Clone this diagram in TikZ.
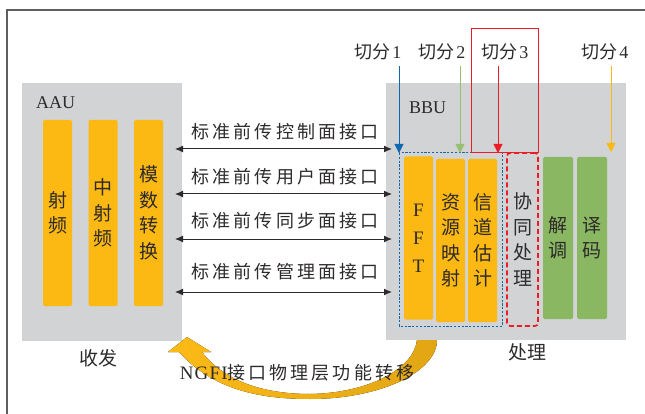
\documentclass[tikz,border=0pt]{standalone}
\usepackage{fontspec}
\setmainfont{Liberation Serif}
\newfontfamily\cjk{Noto Sans CJK SC}
\newfontfamily\cjkw[LetterSpace=17]{Noto Sans CJK SC}
\newfontfamily\serifw[LetterSpace=6]{Liberation Serif}
\usetikzlibrary{arrows.meta}
\definecolor{boxgray}{RGB}{209,211,212}
\definecolor{barorange}{RGB}{252,184,19}
\definecolor{bargreen}{RGB}{138,183,97}
\definecolor{cutblue}{RGB}{16,104,176}
\definecolor{cutgreen}{RGB}{150,192,110}
\definecolor{cutred}{RGB}{237,28,36}
\definecolor{cutyellow}{RGB}{252,184,19}
\definecolor{txt}{RGB}{45,42,43}
\definecolor{framegray}{RGB}{95,95,95}
\definecolor{bandleft}{RGB}{252,186,22}
\definecolor{bandright}{RGB}{226,166,20}
\tikzset{
  unitbox/.style={fill=boxgray, draw=none, inner sep=0pt},
  obar/.style={fill=barorange, draw=none, rounded corners=1.5pt, inner sep=0pt, minimum width=29pt, text=txt, align=center},
  gbar/.style={fill=bargreen, draw=none, rounded corners=1.5pt, inner sep=0pt, minimum width=30pt, text=txt, align=center},
  vtxt/.style={font=\cjk\fontsize{19}{25.5}\selectfont},
  lbl/.style={text=txt, inner sep=0pt},
  iflbl/.style={text=txt, inner sep=0pt, font=\cjkw\fontsize{18}{20}\selectfont},
  cutlbl/.style={text=txt, inner sep=0pt},
  fharrow/.style={{Latex[length=8pt,width=7pt]}-{Latex[length=8pt,width=7pt]}, line width=1pt, txt},
  cutarrow/.style={-{Triangle[length=9pt,width=9pt]}, line width=0.9pt}
}
\begin{document}
\begin{tikzpicture}[x=1pt,y=-1pt]
\useasboundingbox (0,0) rectangle (645,414);
% frame
\draw[framegray, line width=1.5pt] (7,414) -- (7,10) -- (645,10);

% unit boxes
\node[unitbox, minimum width=160pt, minimum height=258pt] (aau) at (102,212) {};
\node[unitbox, minimum width=240pt, minimum height=257pt] (bbu) at (506,211.5) {};
\node[lbl, anchor=west, font=\fontsize{18}{20}\selectfont] (aaulbl) at (36,103) {AAU};
\node[lbl, anchor=west, font=\fontsize{18}{20}\selectfont] (bbulbl) at (409,108) {BBU};

% AAU bars
\node[obar, minimum height=186pt, vtxt] (rf) at (57.5,213) {射\\频};
\node[obar, minimum height=186pt, vtxt] (if) at (103,213) {中\\射\\频};
\node[obar, minimum height=186pt, vtxt] (adc) at (148.5,213) {模\\数\\转\\换};

% BBU bars
\node[obar, minimum height=163pt, font=\fontsize{19}{28}\selectfont] (fft) at (418.5,238) {F\\F\\T};
\node[obar, minimum height=163pt, vtxt] (map) at (450.5,240.5) {资\\源\\映\\射};
\node[obar, minimum height=163pt, vtxt] (est) at (482.5,240.5) {信\\道\\估\\计};
\node[gbar, minimum height=162pt, vtxt] (dem) at (558,238) {解\\调};
\node[gbar, minimum height=162pt, vtxt] (dec) at (592,238) {译\\码};
\node[draw=cutred, dash pattern=on 5pt off 3pt, line width=1.7pt, rounded corners=3pt, minimum width=31pt, minimum height=173pt, inner sep=0pt, text=txt, align=center, vtxt] (coop) at (522.5,239.5) {协\\同\\处\\理};
\draw[cutblue, line width=1pt, dash pattern=on 2.2pt off 1.6pt] (399,153) rectangle (502,326);
\draw[cutred, line width=1pt] (471,29) rectangle (538,153);

% bottom labels
\node[lbl, font=\cjk\fontsize{19}{21}\selectfont] (txrx) at (98,358) {收发};
\node[lbl, font=\cjk\fontsize{19}{21}\selectfont] (proc) at (527,352) {处理};

% cut labels and arrows
\node[cutlbl] (c1) at (378,52) {{\cjk\fontsize{18}{20}\selectfont 切分}\,{\fontsize{18}{20}\selectfont 1}};
\node[cutlbl] (c2) at (442,52) {{\cjk\fontsize{18}{20}\selectfont 切分}\,{\fontsize{18}{20}\selectfont 2}};
\node[cutlbl] (c3) at (505,52) {{\cjk\fontsize{18}{20}\selectfont 切分}\,{\fontsize{18}{20}\selectfont 3}};
\node[cutlbl] (c4) at (605,52) {{\cjk\fontsize{18}{20}\selectfont 切分}\,{\fontsize{18}{20}\selectfont 4}};
\coordinate (c1s) at (399,66); \coordinate (c1e) at (399,153);
\coordinate (c2s) at (460,66); \coordinate (c2e) at (460,153);
\coordinate (c3s) at (498,66); \coordinate (c3e) at (498,153);
\coordinate (c4s) at (611,66); \coordinate (c4e) at (611,152);
\draw[cutarrow, cutblue] (c1s) -- (c1e);
\draw[cutarrow, cutgreen] (c2s) -- (c2e);
\draw[cutarrow, cutred] (c3s) -- (c3e);
\draw[cutarrow, cutyellow] (c4s) -- (c4e);

% fronthaul interfaces
\coordinate (a1) at (175,149); \coordinate (b1) at (392,149);
\coordinate (a2) at (175,194); \coordinate (b2) at (392,194);
\coordinate (a3) at (175,239); \coordinate (b3) at (392,239);
\coordinate (a4) at (175,292); \coordinate (b4) at (392,292);
\draw[fharrow] (a1) -- (b1);
\draw[fharrow] (a2) -- (b2);
\draw[fharrow] (a3) -- (b3);
\draw[fharrow] (a4) -- (b4);
\node[iflbl] (i1) at (285,132) {标准前传控制面接口};
\node[iflbl] (i2) at (285,177) {标准前传用户面接口};
\node[iflbl] (i3) at (285,221) {标准前传同步面接口};
\node[iflbl] (i4) at (285,272) {标准前传管理面接口};

% curved transfer arrow
\fill[left color=bandleft, right color=bandright]
  (211,352) -- (187,337) -- (168,352) -- (179,352)
  .. controls (215,392) and (265,399) .. (310,399)
  .. controls (380,399) and (437,372) .. (437,340)
  -- (417,340)
  .. controls (414,368) and (370,393) .. (310,394)
  .. controls (265,394) and (225,382) .. (202,352) -- cycle;
\node[lbl] (ngfi) at (297,373) {{\serifw\fontsize{19}{20}\selectfont NGFI}{\cjkw\fontsize{18}{20}\selectfont 接口物理层功能转移}};
\end{tikzpicture}
\end{document}
